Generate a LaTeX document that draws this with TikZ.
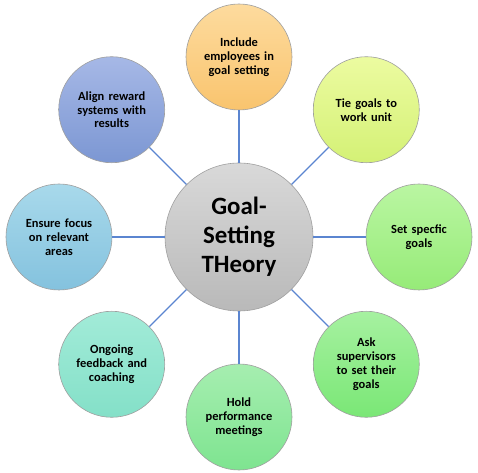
\documentclass[tikz,border=0pt]{standalone}
\usepackage{fontspec}
\setmainfont{Carlito}
\usetikzlibrary{calc}
\definecolor{linkblue}{HTML}{5B85D0}
\tikzset{
  bubble/.style={circle, draw=gray!75, line width=.6bp, minimum size=106bp, inner sep=0pt,
    align=center, text width=80bp, font=\fontsize{12.5}{14}\selectfont\bfseries},
  hub/.style={bubble, minimum size=148bp, text width=110bp, font=\fontsize{25}{29}\selectfont\bfseries},
  link/.style={linkblue, line width=1.2bp}
}
\begin{document}
\begin{tikzpicture}[x=1bp,y=1bp]
\useasboundingbox (-239,-236) rectangle (239,237);
% the hub
\node[hub, top color=gray!30, bottom color=gray!55] (goal) at (0,0) {Goal-\\Setting\\THeory};
% the ring, every 45 degrees
\node[bubble, top color={rgb,255:red,253;green,219;blue,158}, bottom color={rgb,255:red,249;green,196;blue,110}] (incl) at (90:180) {Include\\employees in\\goal setting};
\node[bubble, top color={rgb,255:red,236;green,251;blue,160}, bottom color={rgb,255:red,212;green,241;blue,118}] (tie) at (45:180) {Tie goals to\\work unit};
\node[bubble, top color={rgb,255:red,186;green,246;blue,162}, bottom color={rgb,255:red,150;green,235;blue,120}] (spec) at (0:180) {Set specfic\\goals};
\node[bubble, top color={rgb,255:red,166;green,241;blue,160}, bottom color={rgb,255:red,122;green,231;blue,118}] (ask) at (-45:180) {Ask\\supervisors\\to set their\\goals};
\node[bubble, top color={rgb,255:red,166;green,238;blue,176}, bottom color={rgb,255:red,126;green,228;blue,144}] (hold) at (-90:180) {Hold\\performance\\meetings};
\node[bubble, top color={rgb,255:red,162;green,235;blue,216}, bottom color={rgb,255:red,132;green,224;blue,200}] (ongo) at (-135:180) {Ongoing\\feedback and\\coaching};
\node[bubble, top color={rgb,255:red,168;green,217;blue,235}, bottom color={rgb,255:red,132;green,194;blue,222}] (focus) at (180:180) {Ensure focus\\on relevant\\areas};
\node[bubble, top color={rgb,255:red,166;green,184;blue,230}, bottom color={rgb,255:red,124;green,151;blue,211}] (align) at (135:180) {Align reward\\systems with\\results};
% spokes
\draw[link] (goal) -- (incl);
\draw[link] (goal) -- (tie);
\draw[link] (goal) -- (spec);
\draw[link] (goal) -- (ask);
\draw[link] (goal) -- (hold);
\draw[link] (goal) -- (ongo);
\draw[link] (goal) -- (focus);
\draw[link] (goal) -- (align);
\end{tikzpicture}
\end{document}
